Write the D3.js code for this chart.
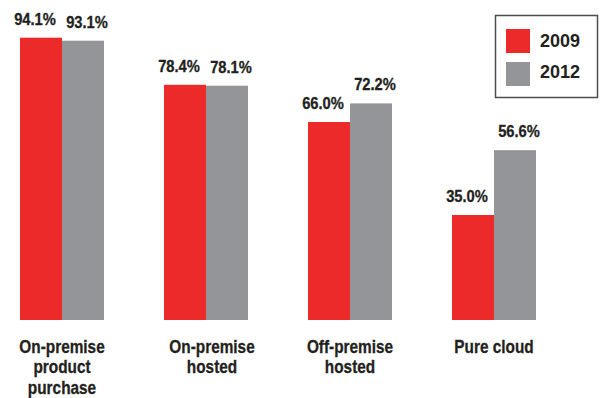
<!DOCTYPE html>
<html>
<head>
<meta charset="utf-8">
<script src="https://cdn.jsdelivr.net/npm/d3@7"></script>
<style>
  html, body { margin: 0; padding: 0; background: #fff; }
  svg { display: block; }
</style>
</head>
<body>
<svg id="chart" width="600" height="398"></svg>
<script>
const categories = [
  ["On-premise", "product", "purchase"],
  ["On-premise", "hosted"],
  ["Off-premise", "hosted"],
  ["Pure cloud"]
];
const categoryKeys = ["onprem_purchase", "onprem_hosted", "offprem_hosted", "pure_cloud"];
const seriesNames = ["2009", "2012"];
const values2009 = [94.1, 78.4, 66.0, 35.0];
const values2012 = [93.1, 78.1, 72.2, 56.6];
const colors = ["#ED2A2A", "#939598"];

const svg = d3.select("#chart");

const x0 = d3.scaleBand()
  .domain(categoryKeys)
  .range([-10, 566])
  .paddingInner(60 / 144)
  .paddingOuter(30 / 144);

const x1 = d3.scaleBand()
  .domain(seriesNames)
  .range([0, x0.bandwidth()])
  .padding(0);

const y = d3.scaleLinear().domain([0, 100]).range([320, 20]);

const seriesVals = [values2009, values2012];

const groups = svg.selectAll("g.grp")
  .data(categoryKeys)
  .join("g")
  .attr("class", "grp")
  .attr("transform", d => `translate(${x0(d)},0)`);

seriesNames.forEach((s, si) => {
  groups.append("rect")
    .attr("x", x1(s))
    .attr("width", x1.bandwidth())
    .attr("y", (d, i) => y(seriesVals[si][i]))
    .attr("height", (d, i) => y(0) - y(seriesVals[si][i]))
    .attr("fill", colors[si]);

  groups.append("text")
    .attr("transform", (d, i) => `translate(${x1(s) + x1.bandwidth() / 2 + (si === 0 ? -6 : 4)},${y(seriesVals[si][i]) - 13}) scale(0.92,1)`)
    .attr("text-anchor", "middle")
    .attr("font-family", "'Liberation Sans', Arial, sans-serif")
    .attr("font-weight", "bold")
    .attr("font-size", 16)
    .attr("stroke", "#231F20")
    .attr("stroke-width", 0.3)
    .attr("fill", "#231F20")
    .text((d, i) => seriesVals[si][i].toFixed(1) + "%");
});

// Category labels
const catText = svg.selectAll("text.cat")
  .data(categories)
  .join("text")
  .attr("class", "cat")
  .attr("text-anchor", "middle")
  .attr("font-family", "'Liberation Sans', Arial, sans-serif")
  .attr("font-weight", "bold")
  .attr("font-size", 18.5)
  .attr("fill", "#231F20")
  .attr("stroke", "#231F20")
  .attr("stroke-width", 0.3)
  .attr("transform", (d, i) => `translate(${x0(categoryKeys[i]) + x0.bandwidth() / 2 + (i === 1 ? 6 : 0)},353) scale(0.83,1)`);

catText.selectAll("tspan")
  .data(d => d)
  .join("tspan")
  .attr("x", 0)
  .attr("y", (d, i) => i * 20.5)
  .text(d => d);

// Legend
const lg = svg.append("g");
lg.append("rect")
  .attr("x", 495.5).attr("y", 15.5)
  .attr("width", 102).attr("height", 82)
  .attr("fill", "#fff")
  .attr("stroke", "#4D4D4F")
  .attr("stroke-width", 1.5);

seriesNames.forEach((s, i) => {
  lg.append("rect")
    .attr("x", 506).attr("y", 29 + i * 33)
    .attr("width", 24).attr("height", 24)
    .attr("fill", colors[i]);
  lg.append("text")
    .attr("x", 540).attr("y", 47 + i * 30.5)
    .attr("font-family", "'Liberation Sans', Arial, sans-serif")
    .attr("font-weight", "bold")
    .attr("font-size", 18)
    .attr("fill", "#231F20")
    .text(s);
});
</script>
</body>
</html>
